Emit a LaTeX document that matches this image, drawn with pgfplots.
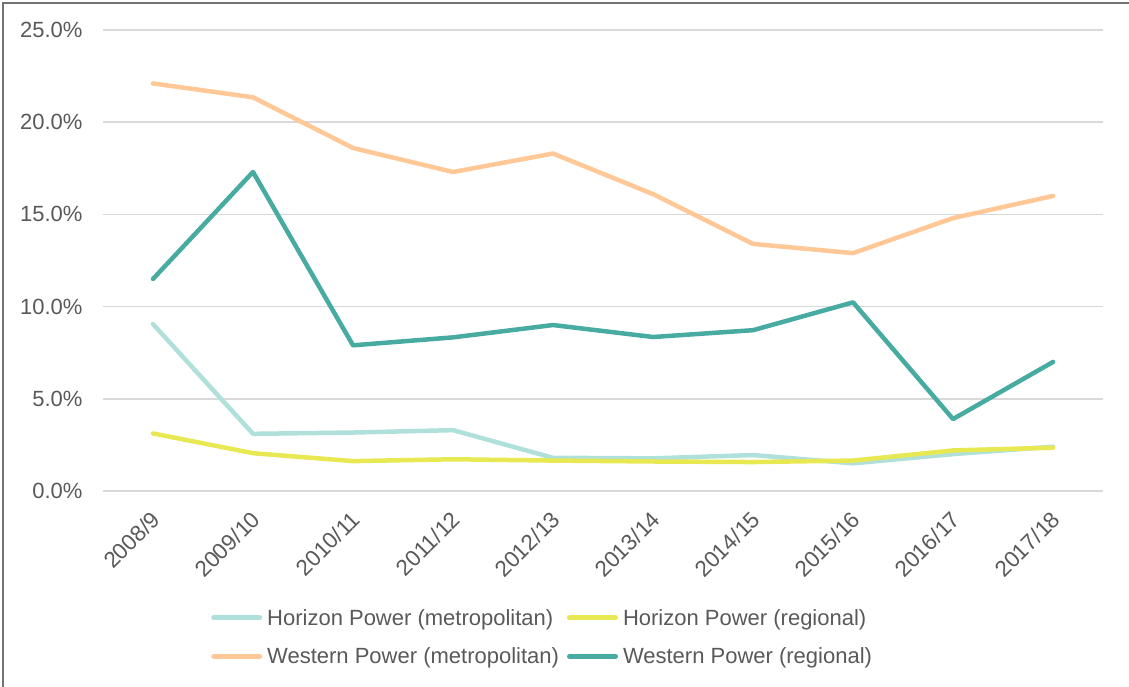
\documentclass[border=0pt]{standalone}
\usepackage{pgfplots}
\pgfplotsset{compat=1.18}
\usepackage{fontspec}
\setmainfont{Liberation Sans}
\definecolor{hmet}{HTML}{B0E0DA}
\definecolor{hreg}{HTML}{E8E852}
\definecolor{wmet}{HTML}{FFC896}
\definecolor{wreg}{HTML}{48ABA2}
\definecolor{txt}{HTML}{595959}
\definecolor{gridc}{HTML}{D9D9D9}
\begin{document}
\begin{tikzpicture}[x=1pt,y=1pt]
\useasboundingbox (0,0) rectangle (1129,687);
\draw[color=black!55, line width=1.2pt] (3,-10) -- (3,684) -- (1140,684);
\begin{axis}[
  at={(103pt,196pt)}, anchor=south west,
  scale only axis, width=1000pt, height=461pt,
  xmin=-0.5, xmax=9.5, ymin=0, ymax=25,
  xtick={0,...,9},
  xticklabels={2008/9,2009/10,2010/11,2011/12,2012/13,2013/14,2014/15,2015/16,2016/17,2017/18},
  xticklabel style={rotate=45, anchor=north east, font=\fontsize{22.5}{26}\selectfont, text=txt, inner sep=2pt, xshift=-13pt, yshift=-9pt},
  ytick={0,5,...,25},
  yticklabel={\pgfmathprintnumber[fixed,fixed zerofill,precision=1]{\tick}\%},
  yticklabel style={font=\fontsize{22}{26}\selectfont, text=txt, xshift=-17pt},
  /pgf/number format/assume math mode=true,
  ymajorgrids, grid style={gridc, line width=1.5pt},
  axis line style={draw=none},
  major tick length=0pt,
  tick style={draw=none},
  legend columns=2,
  legend style={at={(0.108,-0.317)}, anchor=west, draw=none, fill=none,
    font=\fontsize{22}{26}\selectfont, text=txt, inner sep=0pt,
    nodes={inner sep=0pt, anchor=west},
    /tikz/every even column/.append style={column sep=8pt},
    /tikz/every odd column/.append style={column sep=5pt},
    row sep=21pt},
  legend cell align=left,
  legend image code/.code={\draw[#1, line width=5pt, line cap=round] (0pt,0pt) -- (46pt,0pt);},
  every axis plot/.append style={line width=4.5pt, line join=round, line cap=round, mark=none},
]
\addplot[hmet] coordinates {(0,9.05) (1,3.1) (2,3.17) (3,3.3) (4,1.8) (5,1.77) (6,1.95) (7,1.5) (8,2.0) (9,2.4)};
\addlegendentry{Horizon Power (metropolitan)}
\addplot[hreg] coordinates {(0,3.12) (1,2.05) (2,1.62) (3,1.72) (4,1.65) (5,1.6) (6,1.57) (7,1.65) (8,2.2) (9,2.35)};
\addlegendentry{Horizon Power (regional)}
\addplot[wmet] coordinates {(0,22.1) (1,21.35) (2,18.6) (3,17.3) (4,18.3) (5,16.1) (6,13.4) (7,12.9) (8,14.8) (9,16.0)};
\addlegendentry{Western Power (metropolitan)}
\addplot[wreg] coordinates {(0,11.5) (1,17.3) (2,7.9) (3,8.33) (4,9.0) (5,8.35) (6,8.72) (7,10.23) (8,3.9) (9,7.0)};
\addlegendentry{Western Power (regional)}
\end{axis}
\end{tikzpicture}
\end{document}
